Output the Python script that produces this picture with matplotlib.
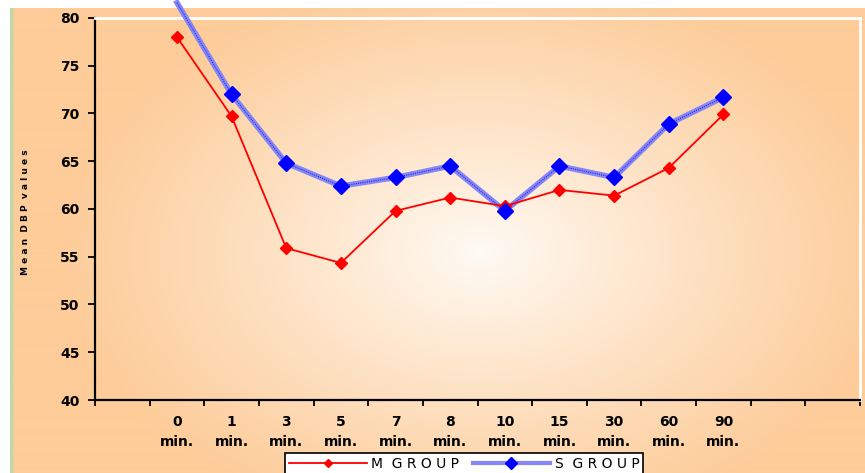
#!/usr/bin/env python

import matplotlib
matplotlib.use('Agg')
import matplotlib.pyplot as plt
import numpy as np
from matplotlib.patches import Rectangle


# data
time_labels = ['0\nmin.', '1\nmin.', '3\nmin.', '5\nmin.', '7\nmin.', '8\nmin.',
               '10\nmin.', '15\nmin.', '30\nmin.', '60\nmin.', '90\nmin.']
m_group = [78.0, 69.7, 55.9, 54.35, 59.8, 61.2, 60.3, 62.0, 61.4, 64.3, 69.9]
s_group = [81.6, 72.0, 64.8, 62.4, 63.3, 64.5, 59.8, 64.5, 63.3, 68.9, 71.7]

# category slots on the axis: one empty before, two empty after
n_slots = 14
first_slot = 1
y_min, y_max = 40, 80

W, H = 865, 473
ORANGE = np.array([253, 204, 153]) / 255.0
WHITE = np.array([255, 251, 246]) / 255.0


def gradient_image(w, h, cx, cy, rx, ry):
    yy, xx = np.mgrid[0:h, 0:w]
    t = np.sqrt(((xx - cx) / rx) ** 2 + ((yy - cy) / ry) ** 2)
    t = np.clip(t, 0, 1) ** 0.9
    return WHITE * (1 - t[..., None]) + ORANGE * t[..., None]


fig = plt.figure(figsize=(W / 100, H / 100), dpi=100, facecolor='white')

# chart area background with radial gradient
bg = fig.add_axes([10 / W, 0, (W - 10) / W, (H - 8) / H])
bg_w, bg_h = W - 10, H - 8
bg.imshow(gradient_image(bg_w, bg_h, 470, 245, 420, 280), aspect='auto',
          extent=[0, 1, 0, 1], origin='upper', interpolation='bilinear')
bg.axvline(0.001, color='#bcd9a8', lw=2.5)
bg.set_xlim(0, 1)
bg.set_ylim(0, 1)
bg.axis('off')

ax = fig.add_axes([95 / W, (H - 400) / H, 765 / W, 382 / H])
ax.set_facecolor('none')

x = np.arange(len(time_labels)) + first_slot + 0.5

clip_rect = Rectangle((0, 0), 1, 1, transform=bg.transAxes)

# markers are only shown for points inside the value axis
s_visible = [i for i, v in enumerate(s_group) if y_min <= v <= y_max]

# S group: light wide line with a thin blue core, big blue diamonds
s_wide, = ax.plot(x, s_group, color='#8686f6', lw=4.0, zorder=3, clip_on=False)
s_core, = ax.plot(x, s_group, color='#2a2ae8', lw=0.8, ls=(0, (1, 1)),
                  zorder=3.5, clip_on=False)
for artist in (s_wide, s_core):
    artist.set_clip_path(clip_rect)
ax.plot(x, s_group, ls='none', marker='D', ms=8, color='#0000ff',
        markevery=s_visible, zorder=5)

ax.plot(x, m_group, color='#ff0000', lw=1.3, marker='D', ms=6, zorder=4)

ax.set_xlim(0, n_slots)
ax.set_ylim(y_min, y_max)
ax.set_yticks(np.arange(y_min, y_max + 1, 5))
ax.set_xticks(np.arange(0, n_slots + 1))
ax.set_xticklabels([])
ax.set_xticks(x, minor=True)
ax.set_xticklabels(time_labels, minor=True)

ax.tick_params(axis='x', which='major', direction='out', length=4, width=1.3, color='black')
ax.tick_params(axis='x', which='minor', length=0, pad=11)
ax.tick_params(axis='y', direction='out', length=5, width=1.3, color='black', pad=6)
for lbl in ax.get_xticklabels(minor=True) + ax.get_yticklabels():
    lbl.set_fontweight('heavy')
    lbl.set_fontsize(10)
for lbl in ax.get_xticklabels(minor=True):
    lbl.set_linespacing(1.55)

for side in ('left', 'bottom'):
    ax.spines[side].set_color('black')
    ax.spines[side].set_linewidth(1.6)
for side in ('top', 'right'):
    ax.spines[side].set_color('white')
    ax.spines[side].set_linewidth(2)

fig.text(26 / W, 1 - 212 / H, 'M e a n  D B P  v a l u e s', rotation=90,
         fontsize=6.5, fontweight='bold', ha='center', va='center')

# legend handles
m_handle, = ax.plot([], [], color='#ff0000', lw=1.3, marker='D', ms=4.5)
s_handle, = ax.plot([], [], color='#8686f6', lw=3, marker='D', ms=6,
                    mfc='#0000ff', mec='#0000ff')
leg = fig.legend([m_handle, s_handle], ['M  G R O U P', 'S  G R O U P'],
                 loc='upper center', bbox_to_anchor=(464 / W, 1 - 453 / H),
                 ncol=2, frameon=True, fancybox=False, fontsize=10,
                 handlelength=5.6, columnspacing=1.0, handletextpad=0.3,
                 borderpad=0.3, borderaxespad=0)
leg.get_frame().set_edgecolor('black')
leg.get_frame().set_linewidth(1.2)
leg.get_frame().set_facecolor('white')
leg.get_frame().set_alpha(1)

fig.savefig('out.png', dpi=100, facecolor='white')
